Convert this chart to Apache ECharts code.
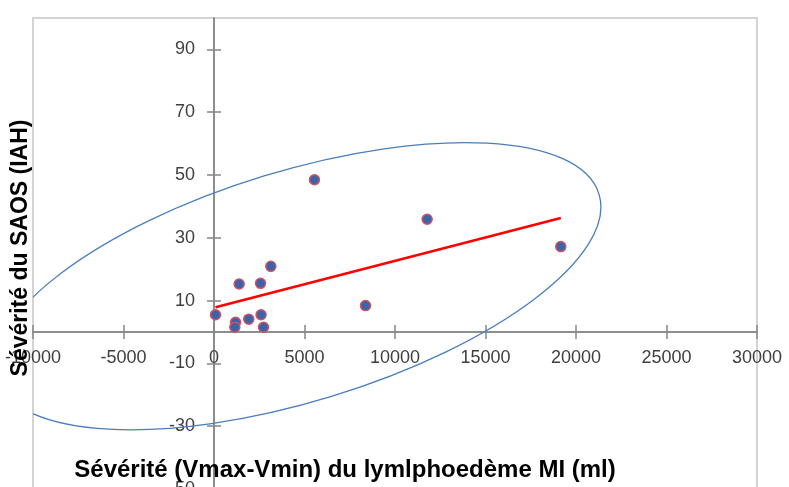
<!DOCTYPE html>
<html>
<head>
<meta charset="utf-8">
<script src="https://cdn.jsdelivr.net/npm/echarts@6/dist/echarts.min.js"></script>
<style>
  html, body { margin: 0; padding: 0; background: #fff; }
  #chart { width: 789px; height: 487px; }
</style>
</head>
<body>
<div id="chart"></div>
<script>
// volumes (ml) and AHI values
const lymphVolume = [83, 1190, 1150, 1920, 2600, 2735, 1390, 2570, 3140, 5550, 8370, 11775, 19160];
const ahiValues = [5.5, 3.1, 1.5, 4.1, 5.5, 1.5, 15.3, 15.5, 20.9, 48.5, 8.4, 35.9, 27.2];
// linear trend line end points
const trendX = [83, 19160];
const trendY = [7.9, 36.3];
// tick labels
const xTicks = [-10000, -5000, 0, 5000, 10000, 15000, 20000, 25000, 30000];
const yTicks = [-50, -30, -10, 10, 30, 50, 70, 90];

// hand-drawn ellipse around the cloud (centre in data units)
const ellipse = { cx: 4630, cy: 14.6, rx: 17400, ry: 36.7, angle: 17 };

const FONT = "Liberation Sans";
const axisGrey = "#868686";

const chart = echarts.init(document.getElementById("chart"));

// axes are moved onto the origin with an offset (computed after first layout)
function xAxisDef(inside, offset) {
  return {
    type: "value",
    position: "bottom",
    offset: offset,
    min: -10000,
    max: 30000,
    interval: 5000,
    splitLine: { show: false },
    axisLine: { onZero: false, lineStyle: { color: axisGrey, width: 1.5 } },
    axisTick: { show: true, inside: inside, length: 7, customValues: xTicks, lineStyle: { color: axisGrey, width: 1.5 } },
    axisLabel: {
      show: !inside,
      customValues: xTicks,
      margin: 17,
      color: "#404040",
      fontFamily: FONT,
      fontSize: 18,
      formatter: (v) => String(v),
    },
  };
}
function yAxisDef(inside, offset) {
  return {
    type: "value",
    position: "left",
    offset: offset,
    min: -50,
    max: 100,
    splitLine: { show: false },
    axisLine: { onZero: false, lineStyle: { color: axisGrey, width: 1.5 } },
    axisTick: { show: true, inside: inside, length: 7, customValues: yTicks, lineStyle: { color: axisGrey, width: 1.5 } },
    axisLabel: {
      show: !inside,
      customValues: yTicks,
      margin: 19,
      color: "#404040",
      fontFamily: FONT,
      fontSize: 18,
      formatter: (v) => String(v),
    },
  };
}

function buildOption(xOff, yOff) {
  return {
    backgroundColor: "#fff",
    animation: false,
    grid: {
      left: 33,
      right: 32,
      top: 18,
      bottom: -2,
      outerBoundsMode: "none",
      containLabel: false,
      show: true,
      borderColor: "#c6c6c6",
      borderWidth: 1.5,
    },
    xAxis: [xAxisDef(false, xOff), xAxisDef(true, xOff)],
    yAxis: [yAxisDef(false, yOff), yAxisDef(true, yOff)],
    graphic: [
      {
        type: "text",
        x: 345,
        y: 470,
        z: 100,
        style: {
          text: "Sévérité (Vmax-Vmin) du lymlphoedème MI (ml)",
          fontFamily: FONT,
          fontSize: 24,
          fontWeight: "bold",
          fill: "#000",
          align: "center",
          verticalAlign: "middle",
        },
      },
      {
        type: "text",
        x: 21,
        y: 248,
        z: 100,
        rotation: Math.PI / 2,
        style: {
          text: "Sévérité du SAOS (IAH)",
          fontFamily: FONT,
          fontSize: 23,
          fontWeight: "bold",
          fill: "#000",
          align: "center",
          verticalAlign: "middle",
        },
      },
    ],
    series: [
      {
        type: "custom",
        silent: true,
        clip: true,
        z: 1,
        data: [[ellipse.cx, ellipse.cy]],
        renderItem: function (params, api) {
          const c = api.coord([ellipse.cx, ellipse.cy]);
          const rx = api.size([ellipse.rx, 0])[0];
          const ry = api.size([0, ellipse.ry])[1];
          return {
            type: "ellipse",
            shape: { cx: c[0], cy: c[1], rx: rx, ry: ry },
            rotation: (ellipse.angle * Math.PI) / 180,
            originX: c[0],
            originY: c[1],
            style: { fill: "none", stroke: "#4a7ebb", lineWidth: 1.3 },
          };
        },
      },
      {
        type: "line",
        z: 2,
        symbol: "none",
        data: trendX.map((x, i) => [x, trendY[i]]),
        lineStyle: { color: "#ff0000", width: 2.5 },
      },
      {
        type: "scatter",
        z: 3,
        symbolSize: 10,
        data: lymphVolume.map((x, i) => [x, ahiValues[i]]),
        itemStyle: { color: "#3a63aa", borderColor: "#d2515f", borderWidth: 1.5, opacity: 1 },
      },
    ],
  };
}

chart.setOption(buildOption(0, 0));
// move both axes onto the origin
const origin = chart.convertToPixel({ gridIndex: 0 }, [0, 0]);
const corner = chart.convertToPixel({ gridIndex: 0 }, [-10000, -50]);
chart.setOption(buildOption(-(corner[1] - origin[1]), -(origin[0] - corner[0])), true);
</script>
</body>
</html>
